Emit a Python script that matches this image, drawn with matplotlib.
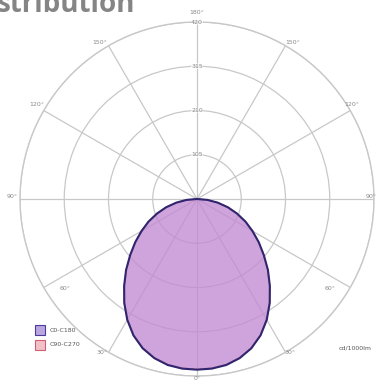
import numpy as np
import matplotlib
matplotlib.use("Agg")
import matplotlib.pyplot as plt

# Luminous intensity (cd/1000lm) against gamma angle, for both C-planes
gamma_deg = [0, 5, 10, 15, 20, 25, 30, 35, 40, 45, 50, 55, 60, 65, 70, 75, 80, 85, 90]
c0_c180 = [405, 404, 400, 391, 377, 357, 331, 301, 269, 238, 207, 179, 152, 127, 101, 76, 50, 25, 0]
c90_c270 = [404, 403, 399, 390, 376, 356, 330, 300, 268, 237, 206, 178, 151, 126, 100, 75, 49, 24, 0]

radial_ticks = [105, 210, 315, 420]
angle_labels = ["0°", "30°", "60°", "90°", "120°", "150°", "180°"]
series_names = ["C0-C180", "C90-C270"]
unit_label = "cd/1000lm"
title_text = "stribution"

W, H = 380, 382
fig = plt.figure(figsize=(W / 100, H / 100), dpi=100)

cx, cy, R = 197, 199, 177
ax = fig.add_axes([(cx - R) / W, (H - cy - R) / H, 2 * R / W, 2 * R / H],
                  projection="polar")
ax.set_theta_zero_location("S")
ax.set_ylim(0, radial_ticks[-1])

grid_col = "#c8c8c8"
ax.set_rgrids(radial_ticks, labels=[""] * len(radial_ticks))
ax.set_thetagrids(np.arange(0, 360, 30), labels=[""] * 12)
ax.grid(True, color=grid_col, lw=0.9)
ax.spines["polar"].set_color(grid_col)
ax.spines["polar"].set_linewidth(1.0)
ax.tick_params(length=0)


def full_curve(vals):
    g = np.array(gamma_deg, dtype=float)
    v = np.array(vals, dtype=float)
    th = np.concatenate([-g[::-1], g[1:]])
    r = np.concatenate([v[::-1], v[1:]])
    return np.radians(th), r


th2, r2 = full_curve(c90_c270)
ax.fill(th2, r2, color="#eaa6c8", alpha=0.55, lw=0, zorder=3)
ax.plot(th2, r2, color="#d07a9a", lw=1.0, zorder=4)

th1, r1 = full_curve(c0_c180)
ax.fill(th1, r1, color="#ad7ad8", alpha=0.5, lw=0, zorder=3)
ax.plot(th1, r1, color="#2f2670", lw=1.5, zorder=5)

lab_col = "#8a8a8a"
fs = 4.5


def ptext(x, y, s, **kw):
    fig.text(x / W, 1 - y / H, s, ha="center", va="center",
             fontsize=kw.pop("fontsize", fs), color=kw.pop("color", lab_col), **kw)


# angle labels
ptext(197, 12, angle_labels[6])
ptext(100, 42, angle_labels[5]); ptext(293, 42, angle_labels[5])
ptext(37, 105, angle_labels[4]); ptext(352, 105, angle_labels[4])
ptext(12, 197, angle_labels[3]); ptext(371, 197, angle_labels[3])
ptext(65, 288, angle_labels[2]); ptext(330, 288, angle_labels[2])
ptext(102, 353, angle_labels[1]); ptext(290, 353, angle_labels[1])
ptext(197, 378, angle_labels[0])

# radial labels on the upper spoke
for val in radial_ticks:
    ax.text(np.pi, val, str(val), ha="center", va="center", fontsize=fs,
            color=lab_col, zorder=6,
            bbox=dict(boxstyle="square,pad=0.05", fc="white", ec="none", alpha=0.6))

# legend
fig.patches.append(plt.Rectangle((35 / W, 1 - 335 / H), 10 / W, 10 / H,
                                 transform=fig.transFigure, fc="#b9a6e0",
                                 ec="#4a3c98", lw=0.8))
fig.patches.append(plt.Rectangle((35 / W, 1 - 350 / H), 10 / W, 10 / H,
                                 transform=fig.transFigure, fc="#f2c0c8",
                                 ec="#d06070", lw=0.8))
fig.text(50 / W, 1 - 330 / H, series_names[0], fontsize=fs, color="#555555", va="center")
fig.text(50 / W, 1 - 345 / H, series_names[1], fontsize=fs, color="#555555", va="center")
fig.text(372 / W, 1 - 348 / H, unit_label, fontsize=fs, color="#555555",
         va="center", ha="right")

fig.text(-3 / W, 1 - 12 / H, title_text, fontsize=20, fontweight="bold",
         color="#858585", family="Open Sans", va="baseline", ha="left")

fig.savefig("out.png", dpi=100)
